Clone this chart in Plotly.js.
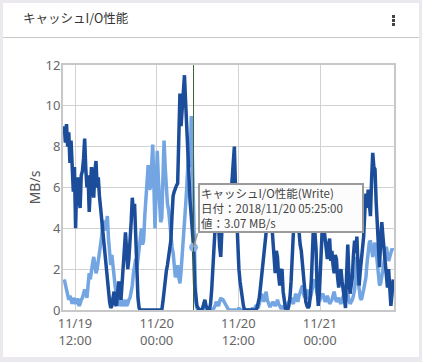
<!DOCTYPE html>
<html><head><meta charset="utf-8">
<script src="https://cdn.plot.ly/plotly-3.0.1.min.js"></script>
<style>
html,body{margin:0;padding:0;width:422px;height:362px;overflow:hidden;background:#ebe8ee;}
#card{position:absolute;left:3px;top:3px;width:416px;height:354px;background:#fff;}
#chart{position:absolute;left:0;top:0;width:416px;height:354px;}
#sep{position:absolute;left:0;top:34px;width:416px;height:1px;background:#c8c8c8;}
.dot{position:absolute;left:389px;width:3px;height:3px;background:#444;}
</style></head>
<body>
<div id="card">
  <div id="chart"></div>
  <div id="sep"></div>
  <div class="dot" style="top:12px"></div>
  <div class="dot" style="top:16px"></div>
  <div class="dot" style="top:20px"></div>
</div>
<script>
// ---- data (10-minute samples starting 2018-11-19 10:25) ----
var startTime = '2018-11-19 10:25:00';
var stepMinutes = 10;

var writeMBs = [
 9.0,8.2,9.1,8.0,8.7,7.2,8.3,6.9,5.8,7.0,4.0,6.2,6.5,5.4,5.0,6.6,6.8,7.4,8.4,6.9,
 6.0,6.6,4.8,5.9,7.0,6.1,5.5,6.8,7.3,6.0,6.5,5.6,5.0,4.4,3.8,3.0,2.5,2.0,1.6,0.9,
 0.4,0.1,0.2,0.6,0.9,0.3,0.2,0.8,1.4,0.9,0.5,1.3,2.0,2.6,3.8,2.9,2.0,2.5,3.2,4.3,
 5.5,4.8,5.2,3.2,1.5,0.6,0.1,0.0,0.0,0.0,0.0,0.0,0.0,0.0,0.0,0.0,0.0,0.0,0.0,0.0,
 0.0,0.0,0.0,0.0,0.0,0.0,0.0,0.4,1.0,1.4,1.9,2.2,2.6,3.0,3.4,4.6,5.6,5.8,6.0,6.1,
 6.2,8.5,10.6,9.0,9.8,10.8,11.5,10.2,9.0,7.5,6.0,5.3,4.6,3.9,3.07,1.2,0.5,0.2,0.1,0.0,
 0.0,0.0,0.1,0.3,0.5,0.2,0.1,0.0,0.0,0.3,1.0,2.2,3.5,4.4,5.0,4.6,4.2,3.1,2.6,3.9,
 4.8,5.3,5.5,4.7,6.2,5.1,4.5,5.6,6.5,7.4,8.0,6.0,4.5,3.0,2.0,1.4,0.9,0.5,0.2,0.0,
 0.0,0.0,0.0,0.0,0.0,0.0,0.0,0.0,0.0,0.0,0.1,0.3,0.6,1.1,1.6,2.2,2.9,3.3,3.6,4.3,
 4.8,5.4,5.0,4.1,3.4,2.4,1.8,2.9,2.6,1.7,1.2,1.9,2.0,0.9,0.3,0.1,0.1,0.0,0.2,0.6,
 1.4,2.8,4.0,4.9,5.2,4.2,4.5,3.6,3.2,2.9,2.2,1.4,0.8,0.4,0.2,0.1,0.2,0.7,1.6,3.2,
 4.5,3.8,3.0,1.0,0.2,0.9,2.0,3.6,4.6,4.0,3.5,2.9,2.5,3.1,3.5,2.4,2.9,2.2,1.8,2.7,
 2.5,1.6,1.1,1.7,2.0,1.4,1.0,0.4,0.1,1.8,3.2,1.6,0.8,1.2,1.6,2.7,3.4,2.8,3.6,2.2,
 1.2,1.9,2.5,3.0,3.6,4.8,5.7,5.0,5.9,5.2,4.6,6.4,7.7,7.0,6.9,5.3,4.1,2.8,2.1,3.4,
 4.3,3.6,3.0,2.2,1.5,1.1,2.0,0.9,0.2,0.8,1.5
];
var readMBs = [
 1.5,1.2,1.0,0.6,0.5,0.7,0.4,0.3,0.6,0.4,0.3,0.5,0.5,0.2,0.3,0.5,0.6,0.8,1.0,0.8,
 0.6,1.2,1.8,1.5,2.0,2.3,2.6,2.1,1.8,2.0,2.4,2.8,3.1,3.6,4.4,4.0,3.9,4.2,4.6,3.5,
 2.5,2.2,2.7,2.0,1.5,1.1,0.8,0.6,0.4,0.2,0.6,0.4,0.2,0.3,0.5,0.2,0.3,0.5,0.6,0.9,
 1.2,1.8,2.2,2.5,2.0,2.6,3.1,3.8,4.0,3.2,3.4,4.6,5.5,6.4,7.1,5.9,6.0,7.0,8.1,6.2,
 4.0,5.8,7.8,6.4,5.2,4.3,4.5,6.6,8.3,7.0,6.0,5.2,4.9,4.1,3.5,3.1,2.8,2.1,1.6,1.9,
 2.2,1.6,1.3,1.9,2.6,3.3,4.0,5.1,6.0,7.2,8.2,7.0,9.5,7.3,5.0,2.2,0.4,0.1,0.0,0.0,
 0.0,0.0,0.0,0.0,0.1,0.0,0.0,0.0,0.0,0.0,0.0,0.0,0.1,0.2,0.4,0.3,0.2,0.4,0.6,0.5,
 0.5,0.4,0.3,0.2,0.1,0.0,0.0,0.0,0.0,0.0,0.0,0.0,0.0,0.0,0.1,0.0,0.0,0.0,0.0,0.0,
 0.0,0.0,0.0,0.0,0.0,0.0,0.1,0.0,0.1,0.2,0.2,0.1,0.3,0.5,0.8,0.6,0.4,0.6,0.9,0.5,
 0.3,0.2,0.2,0.3,0.4,0.3,0.2,0.3,0.5,0.3,0.2,0.1,0.1,0.2,0.1,0.1,0.2,0.3,0.4,0.5,
 0.6,0.4,0.3,0.5,0.8,0.6,0.4,0.7,0.9,1.0,1.2,0.8,0.6,0.9,1.0,0.7,0.5,0.6,0.8,1.1,
 1.5,1.3,1.2,0.8,0.5,0.4,0.6,0.7,0.8,0.6,0.4,0.5,0.7,0.5,0.3,0.4,0.5,0.7,0.9,0.6,
 0.4,0.5,0.6,0.4,0.3,0.5,0.7,0.5,0.4,0.6,0.8,0.5,0.3,0.4,0.5,0.7,1.0,1.6,2.6,1.5,
 0.8,0.6,0.5,0.7,1.0,1.3,1.6,2.3,3.0,3.3,3.4,2.8,2.6,3.0,3.3,2.9,2.4,1.7,1.2,1.3,
 1.6,1.9,2.2,2.7,3.1,2.7,2.4,2.6,2.9,3.0,2.9
];
var tickVals = ['2018-11-19 12:00','2018-11-20 00:00','2018-11-20 12:00','2018-11-21 00:00'];
var tickText = ['11/19<br>12:00','11/20<br>00:00','11/20<br>12:00','11/21<br>00:00'];
var seriesName = 'キャッシュI/O性能';
var hoverIndex = 114;

// ---- build timestamps ----
function pad(n){return (n<10?'0':'')+n;}
function fmt(d){return d.getFullYear()+'-'+pad(d.getMonth()+1)+'-'+pad(d.getDate())+' '+pad(d.getHours())+':'+pad(d.getMinutes())+':'+pad(d.getSeconds());}
var t0 = new Date(startTime.replace(' ','T'));
var times = writeMBs.map(function(_,i){return fmt(new Date(t0.getTime()+i*stepMinutes*60000));});

var hoverTime = times[hoverIndex];
var hd = new Date(hoverTime.replace(' ','T'));
var hoverLabel = hd.getFullYear()+'/'+pad(hd.getMonth()+1)+'/'+pad(hd.getDate())+' '+pad(hd.getHours())+':'+pad(hd.getMinutes())+':'+pad(hd.getSeconds());
var hoverValue = writeMBs[hoverIndex];

var DARK='#1b4d9b', LIGHT='#72a5e2';
var FONT='"Noto Sans CJK JP", "Noto Sans", sans-serif';
var LATIN='"Noto Sans", "DejaVu Sans", sans-serif';

var traces = [
 {x:times, y:readMBs, type:'scatter', mode:'lines', name:'Read', line:{color:LIGHT, width:3.5}},
 {x:times, y:writeMBs, type:'scatter', mode:'lines', name:'Write', line:{color:DARK, width:3.5}},
 {x:[hoverTime], y:[hoverValue], type:'scatter', mode:'markers', marker:{color:'#86b3ea', size:9}, hoverinfo:'skip'}
];

var layout = {
 width:416, height:354,
 margin:{l:60, r:25, t:62, b:47},
 paper_bgcolor:'rgba(0,0,0,0)', plot_bgcolor:'#ffffff',
 showlegend:false,
 font:{family:FONT, color:'#666', size:13},
 title:{text:seriesName, x:20/416, xref:'container', xanchor:'left', y:1-16/354, yref:'container', yanchor:'middle', font:{family:FONT, size:12.5, color:'#333'}},
 xaxis:{type:'date', range:['2018-11-19 10:14:00','2018-11-21 10:52:30'],
   tickvals:tickVals, ticktext:tickText, showgrid:true, gridcolor:'#d2d2d2', gridwidth:1,
   showline:true, mirror:true, linecolor:'#c8c8c8', linewidth:2, zeroline:false, ticks:'',
   tickfont:{family:LATIN, size:13, color:'#666'}},
 yaxis:{range:[0,12], dtick:2, showgrid:true, gridcolor:'#d2d2d2', gridwidth:1,
   showline:true, mirror:true, linecolor:'#c8c8c8', linewidth:2, zeroline:false, ticks:'',
   ticklabelstandoff:-2,
   tickfont:{family:LATIN, size:13, color:'#666'},
   title:{text:'MB/s', font:{family:LATIN, size:14, color:'#555'}, standoff:2}},
 shapes:[{type:'line', xref:'x', yref:'paper', x0:hoverTime, x1:hoverTime, y0:0, y1:1, line:{color:'#3d5f3d', width:1}}],
 annotations:[{
   x:hoverTime, y:hoverValue, xref:'x', yref:'y',
   text:seriesName+'(Write)<br>日付：'+hoverLabel+'<br>値：'+hoverValue.toFixed(2)+' MB/s',
   showarrow:true, arrowhead:0, arrowcolor:'#999', arrowwidth:1.5, ax:4, ay:-14,
   xanchor:'left', yanchor:'bottom', align:'left', width:160, height:44,
   bgcolor:'#fcfcfc', bordercolor:'#9a9a9a', borderwidth:2, borderpad:1,
   font:{family:FONT, size:11.5, color:'#444'}
 }]
};
Plotly.newPlot('chart', traces, layout, {displayModeBar:false, staticPlot:true});
</script>
</body></html>
